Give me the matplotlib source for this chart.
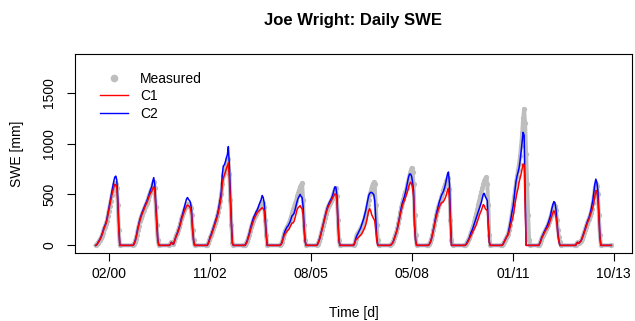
import numpy as np
import pandas as pd
import matplotlib
matplotlib.use("Agg")
import matplotlib.pyplot as plt
import matplotlib.dates as mdates
from matplotlib.lines import Line2D

plt.rcParams["font.family"] = ["Liberation Sans", "DejaVu Sans"]

# SWE [mm], one value every 10 days from Oct 1 of each water year
measured = {
    2000: [0, 10, 25, 40, 55, 75, 95, 125, 160, 185, 210, 240, 290, 340, 390, 440, 490, 540, 580, 610, 600, 560, 400, 150, 0],
    2001: [0, 10, 30, 60, 100, 150, 195, 235, 270, 300, 325, 350, 375, 400, 420, 450, 480, 510, 540, 560, 600, 620, 560, 380, 200, 50, 0],
    2002: [0, 10, 30, 20, 10, 40, 70, 100, 120, 150, 180, 220, 260, 290, 320, 350, 380, 400, 410, 400, 390, 370, 300, 150, 50, 0],
    2003: [0, 0, 20, 50, 80, 100, 130, 160, 190, 220, 250, 290, 330, 380, 440, 500, 600, 680, 710, 740, 770, 800, 850, 700, 450, 200, 20, 0],
    2004: [0, 0, 0, 20, 40, 70, 100, 140, 180, 210, 240, 270, 290, 310, 330, 350, 370, 390, 410, 430, 420, 380, 250, 100, 0],
    2005: [0, 10, 30, 70, 110, 140, 160, 180, 200, 220, 250, 280, 320, 350, 380, 410, 440, 480, 510, 540, 570, 590, 610, 450, 200, 50, 0],
    2006: [0, 15, 40, 70, 110, 150, 190, 230, 270, 310, 350, 380, 400, 420, 440, 460, 490, 520, 555, 560, 480, 250, 50, 0],
    2007: [0, 20, 60, 100, 120, 130, 150, 170, 190, 210, 240, 270, 310, 350, 400, 450, 500, 530, 570, 600, 620, 600, 400, 200, 50, 0],
    2008: [0, 10, 20, 40, 70, 100, 130, 170, 220, 270, 330, 380, 420, 460, 490, 520, 560, 610, 650, 690, 730, 760, 720, 600, 300, 100, 0],
    2009: [0, 0, 10, 30, 60, 100, 150, 200, 250, 300, 340, 380, 410, 440, 470, 500, 540, 570, 600, 630, 650, 660, 550, 250, 50, 0],
    2010: [0, 0, 10, 30, 50, 70, 100, 130, 160, 190, 230, 270, 310, 350, 400, 440, 480, 520, 560, 600, 630, 650, 670, 600, 400, 100, 0],
    2011: [0, 0, 10, 30, 50, 70, 90, 110, 150, 200, 260, 330, 400, 470, 540, 620, 680, 740, 800, 880, 980, 1100, 1250, 1340, 1200, 900, 600, 300, 50, 0],
    2012: [0, 0, 20, 50, 80, 100, 120, 140, 160, 180, 200, 230, 260, 290, 330, 370, 400, 390, 350, 250, 150, 80, 30, 0],
    2013: [0, 0, 20, 30, 20, 30, 40, 60, 90, 120, 150, 180, 210, 240, 260, 290, 320, 360, 420, 480, 560, 600, 580, 500, 300, 100, 0],
}
c1 = {
    2000: [0, 5, 20, 35, 50, 70, 95, 120, 155, 180, 205, 235, 290, 340, 390, 440, 490, 530, 570, 600, 590, 570, 400, 150, 0],
    2001: [0, 5, 25, 55, 95, 145, 190, 230, 265, 295, 320, 345, 370, 395, 415, 440, 470, 495, 515, 530, 555, 575, 540, 380, 200, 50, 0],
    2002: [0, 10, 30, 20, 10, 40, 70, 95, 115, 145, 175, 210, 250, 280, 310, 340, 360, 385, 395, 390, 380, 360, 300, 150, 50, 0],
    2003: [0, 0, 15, 45, 75, 95, 125, 155, 185, 215, 245, 280, 320, 370, 420, 480, 600, 660, 690, 720, 750, 780, 810, 650, 420, 200, 20, 0],
    2004: [0, 0, 0, 15, 35, 65, 95, 130, 170, 200, 230, 260, 280, 300, 320, 330, 340, 350, 360, 370, 360, 340, 230, 100, 0],
    2005: [0, 10, 25, 60, 90, 110, 125, 140, 150, 160, 180, 200, 220, 220, 235, 270, 310, 350, 370, 380, 390, 370, 360, 300, 150, 40, 0],
    2006: [0, 15, 40, 65, 105, 145, 185, 225, 265, 305, 340, 370, 390, 410, 430, 450, 470, 490, 505, 500, 440, 230, 50, 0],
    2007: [0, 20, 50, 60, 70, 80, 90, 100, 110, 130, 150, 170, 200, 240, 290, 340, 360, 340, 300, 280, 260, 240, 150, 50, 0, 0],
    2008: [0, 10, 20, 40, 70, 100, 130, 165, 210, 260, 310, 350, 390, 420, 440, 470, 500, 530, 570, 600, 620, 610, 560, 480, 200, 50, 0],
    2009: [0, 0, 10, 30, 60, 100, 150, 190, 240, 280, 320, 350, 380, 400, 420, 420, 430, 450, 470, 500, 540, 560, 450, 200, 0, 0],
    2010: [0, 0, 10, 20, 40, 60, 80, 100, 120, 140, 160, 180, 200, 230, 260, 290, 320, 340, 370, 400, 390, 360, 350, 340, 200, 30, 0],
    2011: [0, 0, 10, 30, 50, 70, 90, 100, 130, 170, 210, 250, 280, 340, 410, 470, 520, 560, 620, 660, 700, 750, 800, 790, 400, 0, 0, 0, 0, 0],
    2012: [0, 0, 20, 40, 70, 90, 110, 130, 150, 165, 180, 200, 230, 260, 290, 320, 340, 320, 280, 220, 100, 40, 0, 0],
    2013: [0, 0, 20, 30, 20, 30, 40, 60, 85, 110, 140, 170, 200, 230, 250, 280, 310, 340, 370, 420, 480, 540, 520, 460, 280, 80, 0],
}
c2 = {
    2000: [0, 5, 20, 40, 55, 75, 100, 130, 165, 190, 215, 250, 305, 360, 410, 465, 520, 580, 630, 670, 680, 640, 450, 170, 0],
    2001: [0, 5, 30, 60, 105, 160, 200, 245, 280, 310, 335, 360, 385, 410, 430, 460, 490, 520, 550, 575, 630, 665, 600, 420, 230, 60, 0],
    2002: [0, 10, 30, 20, 10, 40, 70, 100, 125, 155, 185, 225, 270, 300, 340, 380, 420, 455, 470, 450, 440, 420, 340, 170, 50, 0],
    2003: [0, 0, 20, 50, 85, 110, 140, 170, 200, 235, 265, 300, 345, 400, 460, 530, 700, 780, 790, 820, 860, 890, 970, 780, 500, 220, 20, 0],
    2004: [0, 0, 0, 20, 40, 75, 110, 150, 190, 225, 260, 285, 305, 330, 345, 370, 400, 425, 450, 490, 470, 420, 280, 120, 0],
    2005: [0, 10, 30, 70, 110, 140, 160, 180, 190, 210, 230, 260, 290, 300, 315, 350, 390, 430, 460, 480, 500, 480, 470, 380, 180, 40, 0],
    2006: [0, 15, 40, 70, 110, 150, 190, 235, 275, 315, 355, 385, 410, 430, 450, 470, 500, 540, 575, 570, 490, 250, 50, 0],
    2007: [0, 20, 60, 90, 110, 130, 150, 170, 200, 230, 260, 300, 340, 390, 440, 490, 510, 520, 520, 510, 500, 440, 250, 80, 0, 0],
    2008: [0, 10, 20, 40, 70, 100, 130, 170, 220, 270, 330, 380, 420, 450, 480, 520, 570, 620, 670, 700, 700, 680, 620, 530, 200, 50, 0],
    2009: [0, 0, 10, 30, 60, 100, 150, 200, 260, 310, 350, 390, 430, 460, 490, 510, 530, 560, 600, 650, 700, 720, 600, 250, 0, 0],
    2010: [0, 0, 10, 30, 50, 70, 100, 130, 150, 180, 210, 240, 270, 300, 330, 360, 390, 420, 460, 500, 510, 480, 460, 440, 200, 30, 0],
    2011: [0, 0, 10, 30, 50, 70, 90, 110, 160, 210, 270, 330, 380, 460, 550, 630, 680, 720, 760, 830, 920, 1020, 1110, 1080, 500, 0, 0, 0, 0, 0],
    2012: [0, 0, 20, 50, 80, 100, 125, 145, 165, 185, 210, 240, 270, 310, 360, 400, 430, 420, 360, 240, 120, 40, 0, 0],
    2013: [0, 0, 20, 30, 20, 30, 40, 60, 90, 120, 150, 185, 215, 245, 265, 300, 340, 390, 440, 520, 600, 650, 620, 540, 320, 90, 0],
}
record_start = "1999-10-01"
record_end = "2013-09-30"
tick_labels_at = ["2000-02-13", "2002-11-10", "2005-08-06", "2008-05-03", "2011-01-28", "2013-10-24"]

# stitch the water years into one dated series
dates, meas, sim1, sim2 = [], [], [], []
for wy in sorted(measured):
    start = pd.Timestamp(f"{wy - 1}-10-01")
    n = len(measured[wy])
    dates += list(start + pd.to_timedelta(np.arange(n) * 10, unit="D"))
    meas += measured[wy]
    sim1 += c1[wy]
    sim2 += c2[wy]
dates.append(pd.Timestamp(record_end))
meas.append(0)
sim1.append(0)
sim2.append(0)
dates = pd.to_datetime(dates)

fig = plt.figure(figsize=(6.35, 3.21), dpi=100)
ax = fig.add_axes([75 / 635, (321 - 252.7) / 321, 557 / 635, 198.7 / 321])

ax.plot(dates, meas, color="#BEBEBE", lw=2.8, marker="o", ms=3.8, mew=0, zorder=1)
ax.plot(dates, sim2, color="#0000FF", lw=1.1, zorder=2)
ax.plot(dates, sim1, color="#FF0000", lw=1.1, zorder=3)

t0, t1 = pd.Timestamp(record_start), pd.Timestamp(record_end)
span = t1 - t0
ax.set_xlim(t0 - 0.04 * span, t1 + 0.04 * span)
ax.set_ylim(-72, 1879)

ax.set_xticks(pd.to_datetime(tick_labels_at))
ax.xaxis.set_major_formatter(mdates.DateFormatter("%m/%y"))
ax.set_yticks([0, 500, 1000, 1500])
ax.set_yticklabels(["0", "500", "1000", "1500"], rotation=90, va="center")
ax.tick_params(axis="both", direction="out", length=5.5, width=0.8, labelsize=10)
ax.tick_params(axis="x", pad=5)
ax.tick_params(axis="y", pad=8)
for s in ax.spines.values():
    s.set_linewidth(0.8)

ax.set_title("Joe Wright: Daily SWE", fontsize=12, fontweight="bold", pad=21)
ax.set_xlabel("Time [d]", fontsize=10)
ax.set_ylabel("SWE [mm]", fontsize=10)
ax.xaxis.set_label_coords(0.5, -0.27)
ax.yaxis.set_label_coords(-0.091, 0.5)

handles = [
    Line2D([], [], color="#BEBEBE", marker="o", ls="none", ms=5.5, mew=0),
    Line2D([], [], color="#FF0000", lw=1.0),
    Line2D([], [], color="#0000FF", lw=1.0),
]
ax.legend(handles, ["Measured", "C1", "C2"], loc="upper left",
          bbox_to_anchor=(0.045, 0.91), frameon=False, fontsize=10,
          handlelength=2.0, handletextpad=0.9, labelspacing=0.25,
          borderpad=0, borderaxespad=0)

fig.savefig("out.png", dpi=100)
